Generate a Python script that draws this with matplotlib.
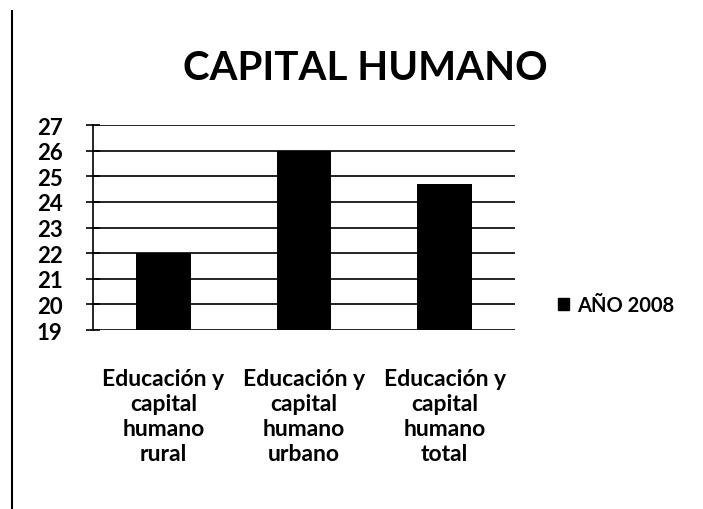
import matplotlib
matplotlib.use("Agg")
import matplotlib.pyplot as plt
from matplotlib.lines import Line2D
from matplotlib.patches import Patch

categories = ["Educación y\ncapital\nhumano\nrural",
              "Educación y\ncapital\nhumano\nurbano",
              "Educación y\ncapital\nhumano\ntotal"]
values_2008 = [22.0, 26.0, 24.7]
series_label = "AÑO 2008"
title = "CAPITAL HUMANO"
yticks = [19, 20, 21, 22, 23, 24, 25, 26, 27]

plt.rcParams['font.family'] = ['Lato', 'DejaVu Sans']

fig = plt.figure(figsize=(7.03, 5.10), dpi=100)
ax = fig.add_axes([93/703, 1-331/510, 422/703, 205/510])

x = list(range(len(categories)))
ax.bar(x, values_2008, width=0.39, color='black', zorder=3, label=series_label)
ax.set_xlim(-0.5, 2.5)
ax.set_ylim(19, 27)
ax.set_yticks(yticks)
ax.set_yticklabels([str(t) for t in yticks], fontsize=16, fontweight='bold')
ax.set_xticks(x)
ax.set_xticklabels(categories, fontsize=16.5, fontweight='bold', linespacing=1.25)
ax.tick_params(axis='x', length=0, pad=27)
ax.tick_params(axis='y', direction='inout', length=10, width=1.2, pad=17, color='black')
ax.yaxis.grid(True, color='black', linewidth=1.2, zorder=1)
for s in ['top', 'right', 'bottom']:
    ax.spines[s].set_visible(False)
ax.spines['left'].set_linewidth(1.2)
ax.set_axisbelow(True)

fig.text(365/703, 1-68/510, title, ha='center', va='center', fontsize=29, fontweight='bold')

handles = [Patch(facecolor='black', edgecolor='black')]
leg = fig.legend(handles, [series_label], loc='center left', bbox_to_anchor=(540/703, 1-306/510),
                 frameon=False, handlelength=0.55, handleheight=0.55, handletextpad=0.4,
                 prop={'size': 14.5, 'weight': 'bold'})

fig.add_artist(Line2D([12/703, 12/703], [0, 1-12/510], color='black', linewidth=1.5))

fig.savefig("out.png", dpi=100, facecolor='white')
